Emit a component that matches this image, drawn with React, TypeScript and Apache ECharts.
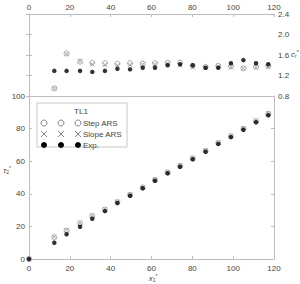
import React, { useEffect, useRef } from "react";
import * as echarts from "echarts";

const xValues = [12.4, 18.4, 25, 31, 37.2, 43.3, 49.5, 55.7, 61.7, 67.9, 74, 80.2, 86.5, 92.7, 98.9, 105, 111.2, 117.2];

// top panel: c_r*
const crStep = [0.95, 1.63, 1.47, 1.45, 1.44, 1.43, 1.44, 1.43, 1.44, 1.45, 1.45, 1.39, 1.37, 1.39, 1.38, 1.34, 1.37, 1.39];
const crSlope = [0.95, 1.62, 1.48, 1.42, 1.41, 1.4, 1.41, 1.42, 1.42, 1.44, 1.4, 1.36, 1.36, 1.38, 1.36, 1.34, 1.36, 1.37];
const crExp = [1.29, 1.29, 1.29, 1.27, 1.29, 1.33, 1.32, 1.35, 1.35, 1.4, 1.42, 1.4, 1.35, 1.35, 1.44, 1.5, 1.44, 1.42];

// bottom panel: tau2*
const originX = 0;
const originTau = 0;
const tauStep = [13.3, 17.4, 21.9, 26.4, 30.3, 34.9, 39.3, 43.9, 48.5, 53.1, 57.1, 61.7, 66.3, 71.1, 75.3, 79.9, 84.5, 89.0];
const tauSlope = [13.6, 17.7, 22.2, 26.6, 30.5, 35.1, 39.5, 44.1, 48.7, 53.3, 57.4, 62.0, 66.6, 71.4, 75.6, 80.2, 84.8, 89.4];
const tauExp = [10.0, 15.2, 19.8, 24.7, 29.4, 34.4, 38.8, 43.4, 48.0, 52.6, 56.6, 61.2, 65.8, 70.6, 74.8, 79.3, 83.9, 88.2];

const legendTitle = "TL1";
const seriesNames = ["Step ARS", "Slope ARS", "Exp."];

const CROSS = "path://M0,0L10,10M10,0L0,10";
const AXIS_COLOR = "#bdbdbd";
const LABEL_COLOR = "#444";
const FONT = "Liberation Sans, Arial, sans-serif";

const pair = (xs: number[], ys: number[]) => xs.map((x, i) => [x, ys[i]]);

const richName = (text: string, x: number, y: number, align: string) => ({
  type: "text", x, y,
  style: {
    text, align, verticalAlign: "middle",
    rich: {
      m: { fontSize: 8, fontFamily: FONT, fill: LABEL_COLOR, fontStyle: "italic" },
      s: { fontSize: 5, fontFamily: FONT, fill: LABEL_COLOR, verticalAlign: "bottom", padding: [4, 0, 0, 0] },
      p: { fontSize: 5, fontFamily: FONT, fill: LABEL_COLOR, verticalAlign: "top" },
    },
  },
});

export default function App() {
  const ref = useRef<HTMLDivElement>(null);
  useEffect(() => {
    if (!ref.current) return;
    const chart = echarts.init(ref.current, undefined, { renderer: "svg" });
    const axisLine = { show: true, lineStyle: { color: AXIS_COLOR, width: 1 } };
    const ticksIn = { show: true, inside: true, length: 3, lineStyle: { color: AXIS_COLOR } };
    const lbl = { color: LABEL_COLOR, fontSize: 8, fontFamily: FONT };
    const openCircle = { color: "#fff", borderColor: "#7a7a7a", borderWidth: 0.8 };
    const cross = { color: "transparent", borderColor: "#7a7a7a", borderWidth: 0.8 };
    const filled = { color: "#000" };

    const legendRowsY = [123, 134, 145];
    const legendXs = [44, 61, 78];
    const legendGraphics: any[] = [
      { type: "rect", shape: { x: 37, y: 103, width: 90, height: 44 }, style: { fill: "#fff", stroke: "#c8c8c8", lineWidth: 1 }, z: 100 },
      { type: "text", x: 81, y: 111, style: { text: legendTitle, fill: LABEL_COLOR, fontSize: 8, fontFamily: FONT, align: "center", verticalAlign: "middle" }, z: 101 },
    ];
    legendXs.forEach((lx) => {
      legendGraphics.push({ type: "circle", shape: { cx: lx, cy: legendRowsY[0], r: 3 }, style: { fill: "#fff", stroke: "#666", lineWidth: 0.8 }, z: 101 });
      legendGraphics.push({ type: "line", shape: { x1: lx - 3, y1: legendRowsY[1] - 3, x2: lx + 3, y2: legendRowsY[1] + 3 }, style: { stroke: "#666", lineWidth: 0.8 }, z: 101 });
      legendGraphics.push({ type: "line", shape: { x1: lx - 3, y1: legendRowsY[1] + 3, x2: lx + 3, y2: legendRowsY[1] - 3 }, style: { stroke: "#666", lineWidth: 0.8 }, z: 101 });
      legendGraphics.push({ type: "circle", shape: { cx: lx, cy: legendRowsY[2], r: 3 }, style: { fill: "#000" }, z: 101 });
    });
    seriesNames.forEach((n, i) => {
      legendGraphics.push({ type: "text", x: 83, y: legendRowsY[i], style: { text: n, fill: LABEL_COLOR, fontSize: 8, fontFamily: FONT, verticalAlign: "middle" }, z: 101 });
    });

    chart.setOption({
      animation: false,
      backgroundColor: "#fff",
      grid: [
        { left: 29, top: 14, width: 245, height: 82 },
        { left: 29, top: 96, width: 245, height: 163 },
      ],
      xAxis: [
        { gridIndex: 0, type: "value", position: "top", min: 0, max: 120, interval: 20, axisLine, axisTick: ticksIn, axisLabel: { ...lbl, margin: 3 }, splitLine: { show: false } },
        { gridIndex: 0, type: "value", position: "bottom", min: 0, max: 120, interval: 20, axisLine, axisTick: { show: false }, axisLabel: { show: false }, splitLine: { show: false } },
        { gridIndex: 1, type: "value", position: "bottom", min: 0, max: 120, interval: 20, axisLine, axisTick: ticksIn, axisLabel: { ...lbl, margin: 5 }, splitLine: { show: false } },
      ],
      yAxis: [
        { gridIndex: 0, type: "value", position: "right", min: 0.8, max: 2.4, interval: 0.4, axisLine, axisTick: ticksIn, axisLabel: { ...lbl, margin: 4, formatter: (v: number) => v.toFixed(1) }, splitLine: { show: false } },
        { gridIndex: 0, type: "value", position: "left", min: 0.8, max: 2.4, interval: 0.4, axisLine, axisTick: ticksIn, axisLabel: { show: false }, splitLine: { show: false } },
        { gridIndex: 1, type: "value", position: "left", min: 0, max: 100, interval: 20, axisLine, axisTick: ticksIn, axisLabel: { ...lbl, margin: 4 }, splitLine: { show: false } },
        { gridIndex: 1, type: "value", position: "right", min: 0, max: 100, interval: 20, axisLine, axisTick: ticksIn, axisLabel: { show: false }, splitLine: { show: false } },
      ],
      series: [
        { name: "Step ARS c", type: "scatter", xAxisIndex: 0, yAxisIndex: 0, symbol: "circle", symbolSize: 5, itemStyle: openCircle, data: pair(xValues, crStep) },
        { name: "Slope ARS c", type: "scatter", xAxisIndex: 0, yAxisIndex: 0, symbol: CROSS, symbolSize: 4.5, itemStyle: cross, data: pair(xValues, crSlope) },
        { name: "Exp. c", type: "scatter", xAxisIndex: 0, yAxisIndex: 0, symbol: "circle", symbolSize: 4.5, itemStyle: filled, data: pair(xValues, crExp) },
        { name: "Step ARS t", type: "scatter", xAxisIndex: 2, yAxisIndex: 2, symbol: "circle", symbolSize: 5, itemStyle: openCircle, data: [[originX, originTau], ...pair(xValues, tauStep)] },
        { name: "Slope ARS t", type: "scatter", xAxisIndex: 2, yAxisIndex: 2, symbol: CROSS, symbolSize: 4.5, itemStyle: cross, data: [[originX, originTau], ...pair(xValues, tauSlope)] },
        { name: "Exp. t", type: "scatter", xAxisIndex: 2, yAxisIndex: 2, symbol: "circle", symbolSize: 4.5, itemStyle: filled, data: [[originX, originTau], ...pair(xValues, tauExp)] },
      ],
      graphic: [
        ...legendGraphics,
        richName("{m|τ}{s|2}{p|*}", 7, 170, "center"),
        richName("{m|x}{s|1}{p|*}", 153, 278, "center"),
        richName("{m|c}{s|r}{p|*}", 291, 54, "left"),
      ],
    });
    return () => chart.dispose();
  }, []);
  return <div ref={ref} style={{ position: "absolute", left: 0, top: 0, width: 300, height: 284 }} />;
}
